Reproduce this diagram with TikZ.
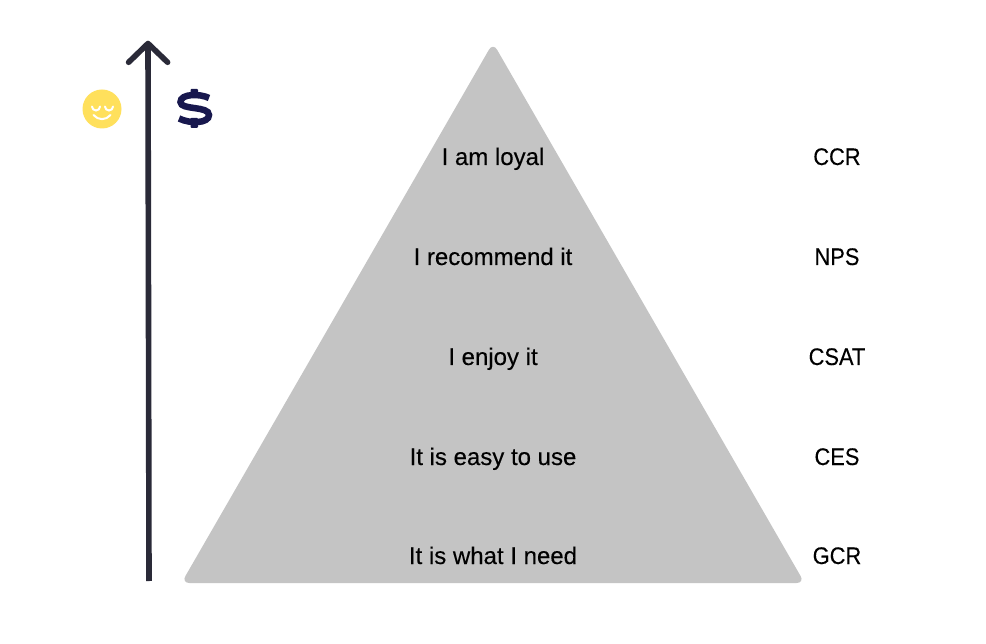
\documentclass[tikz,border=0pt]{standalone}
\usepackage{fontspec}
\setmainfont{Liberation Sans}[FakeBold=0.25]
\definecolor{pyr}{HTML}{C4C4C4}
\definecolor{axis}{HTML}{2A2A38}
\definecolor{smile}{HTML}{FFE05C}
\definecolor{navy}{HTML}{18184E}
\tikzset{
  lab/.style={text=black,inner sep=0pt,anchor=base,font=\fontsize{24}{26}\selectfont},
  code/.style={lab,xscale=0.91},
  axisline/.style={draw=axis,line width=5.6pt},
  smileline/.style={draw=white,line width=2pt,line cap=round}
}
\begin{document}
\begin{tikzpicture}[x=1pt,y=-1pt]
\useasboundingbox[fill=white] (0,0) rectangle (986,644);
\coordinate (apex) at (493,42.7);
\coordinate (bl) at (181.4,583);
\coordinate (br) at (804.6,583);
\fill[pyr,rounded corners=8pt] (apex) -- (br) -- (bl) -- cycle;
\coordinate (axbottom) at (149,581);
\coordinate (axtop) at (148,43.5);
\coordinate (hl) at (128.6,62.3);
\coordinate (hr) at (167.6,62.3);
\draw[axisline] (axbottom) -- (axtop);
\draw[axisline,line cap=round,line join=round] (hl) -- (axtop) -- (hr);
\fill[smile] (102,109) circle (19.5);
\draw[smileline] (92,106.5) arc[start angle=180,end angle=0,radius=4];
\draw[smileline] (105,106.5) arc[start angle=180,end angle=0,radius=4];
\draw[smileline] (93.5,115) .. controls (98,120.5) and (106,120.5) .. (110.5,115);
\draw[navy,line width=6.5pt] (209,98) .. controls (200,93.5) and (180.5,93.5) .. (180.5,102)
  .. controls (180.5,110.5) and (209,105.5) .. (209,115) .. controls (209,123.5) and (190,124) .. (179,118.5);
\fill[navy,rounded corners=1pt] (190.5,89) rectangle (198,98);
\fill[navy,rounded corners=1pt] (190.5,118) rectangle (198,128);
\node[lab] (t1) at (493,165) {I am loyal};
\node[lab] (t2) at (493,265) {I recommend it};
\node[lab] (t3) at (493,365) {I enjoy it};
\node[lab] (t4) at (493,465) {It is easy to use};
\node[lab] (t5) at (493,564) {It is what I need};
\node[code] (m1) at (837,165) {CCR};
\node[code] (m2) at (837,265) {NPS};
\node[code] (m3) at (837,365) {CSAT};
\node[code] (m4) at (837,465) {CES};
\node[code] (m5) at (837,564) {GCR};
\end{tikzpicture}
\end{document}
